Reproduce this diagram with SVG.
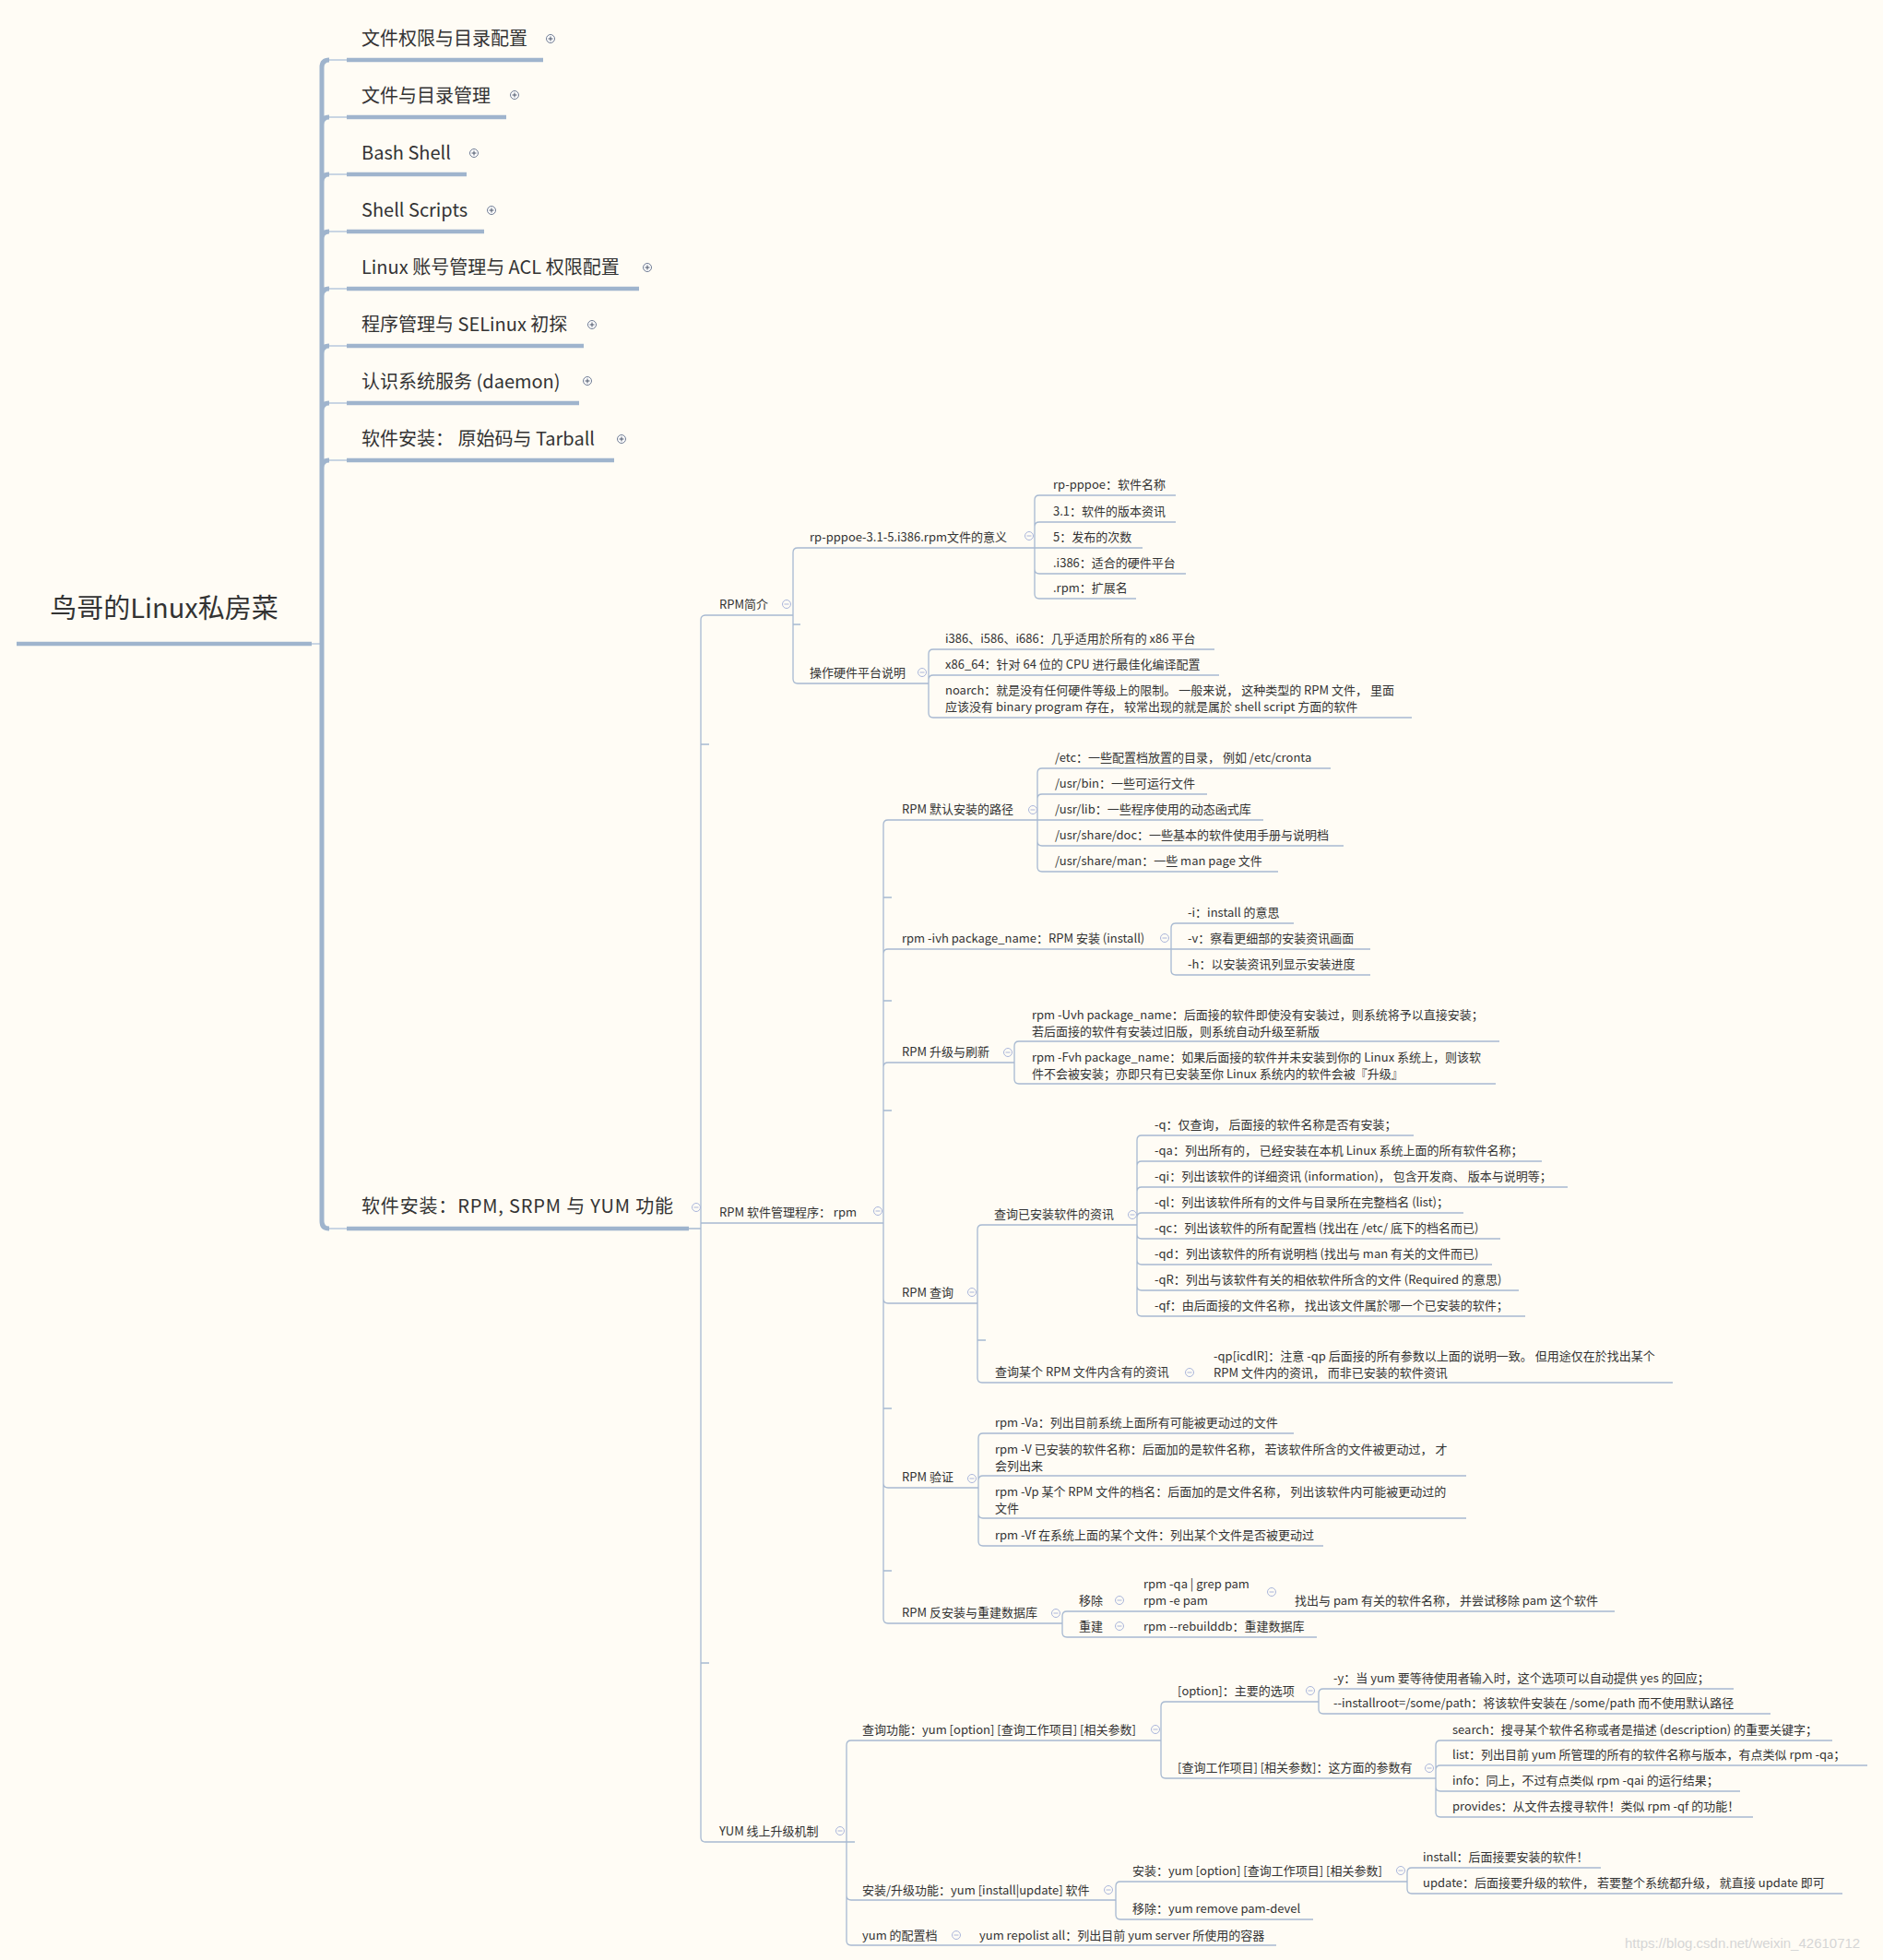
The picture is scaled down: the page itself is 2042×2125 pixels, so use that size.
<svg xmlns="http://www.w3.org/2000/svg" width="2042" height="2125" viewBox="0 0 2042 2125">
<style>
text{font-family:"Noto Sans CJK SC","Noto Sans",sans-serif;fill:#333}
.r{font-size:29px}
.a{font-size:20px}
.s{font-size:13px}
.tk{fill:none;stroke:#9fb4cd;stroke-width:5}
.lt{fill:none;stroke:#c9d5e3;stroke-width:2}
.u1{fill:none;stroke:#9fb4cd;stroke-width:4.5}
.cn{fill:none;stroke:#a7b9d1;stroke-width:1.3}
.u{fill:none;stroke:#a7b9d1;stroke-width:1.3}
.wm{font-family:"Liberation Sans",sans-serif;font-size:15px;fill:#d6d6d6}
</style>
<defs>
<g id="plus"><circle r="4.5" fill="#fff" stroke="#6f7b93"/><path d="M-2.5 0H2.5M0 -2.5V2.5" stroke="#4d566b"/></g>
<g id="minus"><circle r="4.5" fill="#fffcf5" stroke="#aab6db"/><path d="M-2.5 0H2.5" stroke="#aab6db"/></g>
</defs>
<rect width="2042" height="2125" fill="#fffcf5"/>

<g id="connectors">
<path class="lt" d="M338 698H349"/>
<path class="tk" d="M349 698V73Q349 65 357 65M349 698V135Q349 127 357 127M349 698V197Q349 189 357 189M349 698V259Q349 251 357 251M349 698V321Q349 313 357 313M349 698V383Q349 375 357 375M349 698V445Q349 437 357 437M349 698V507Q349 499 357 499M349 698V1324Q349 1332 357 1332"/>
<path class="lt" d="M357 65H376M357 127H376M357 189H376M357 251H376M357 313H376M357 375H376M357 437H376M357 499H376M357 1332H376"/>
<path class="cn" d="M747 1332H760M760 1332V672Q760 667 765 667M760 807H769M760 1332V1326H765M760 1803H769M760 1332V1992Q760 1997 765 1997"/>
<path class="cn" d="M860 667V599Q860 594 865 594M860 677H868M860 667V736Q860 741 865 741"/>
<path class="cn" d="M1122 594V542Q1122 537 1127 537M1122 594V571Q1122 566 1127 566M1122 594H1127M1122 594V617Q1122 622 1127 622M1122 594V644Q1122 649 1127 649"/>
<path class="cn" d="M1007 741V709Q1007 704 1012 704M1007 741V737Q1007 732 1012 732M1007 741V773Q1007 778 1012 778"/>
<path class="cn" d="M958 1326V894Q958 889 963 889M958 973H967M958 1326V1034Q958 1029 963 1029M958 1085H967M958 1326V1157Q958 1152 963 1152M958 1204H967M958 1326V1408Q958 1413 963 1413M958 1527H967M958 1326V1608Q958 1613 963 1613M958 1703H967M958 1326V1755Q958 1760 963 1760"/>
<path class="cn" d="M1125 889V838Q1125 833 1130 833M1125 889V866Q1125 861 1130 861M1125 889H1130M1125 889V912Q1125 917 1130 917M1125 889V940Q1125 945 1130 945"/>
<path class="cn" d="M1270 1029V1006Q1270 1001 1275 1001M1270 1029H1275M1270 1029V1052Q1270 1057 1275 1057"/>
<path class="cn" d="M1100 1152V1134Q1100 1129 1105 1129M1100 1152V1170Q1100 1175 1105 1175"/>
<path class="cn" d="M1060 1413V1333Q1060 1328 1065 1328M1060 1453H1069M1060 1413V1494Q1060 1499 1065 1499"/>
<path class="cn" d="M1233 1328V1236Q1233 1231 1238 1231M1233 1328V1264Q1233 1259 1238 1259M1233 1328V1292Q1233 1287 1238 1287M1233 1328V1320Q1233 1315 1238 1315M1233 1328V1338Q1233 1343 1238 1343M1233 1328V1366Q1233 1371 1238 1371M1233 1328V1394Q1233 1399 1238 1399M1233 1328V1422Q1233 1427 1238 1427"/>
<path class="cn" d="M1061 1613V1559Q1061 1554 1066 1554M1061 1613V1605Q1061 1600 1066 1600M1061 1613V1641Q1061 1646 1066 1646M1061 1613V1671Q1061 1676 1066 1676"/>
<path class="cn" d="M1152 1760V1752Q1152 1747 1157 1747M1152 1760V1770Q1152 1775 1157 1775"/>
<path class="cn" d="M918 1997V1892Q918 1887 923 1887M918 1997H927M918 1997V2055Q918 2060 923 2060M918 1997V2104Q918 2109 923 2109"/>
<path class="cn" d="M1259 1887V1850Q1259 1845 1264 1845M1259 1887V1923Q1259 1928 1264 1928"/>
<path class="cn" d="M1430 1845V1836Q1430 1831 1435 1831M1430 1845V1853Q1430 1858 1435 1858"/>
<path class="cn" d="M1557 1928V1892Q1557 1887 1562 1887M1557 1928V1919Q1557 1914 1562 1914M1557 1928V1937Q1557 1942 1562 1942M1557 1928V1965Q1557 1970 1562 1970"/>
<path class="cn" d="M1210 2060V2045Q1210 2040 1215 2040M1210 2060V2076Q1210 2081 1215 2081"/>
<path class="cn" d="M1526 2040V2030Q1526 2025 1531 2025M1526 2040V2048Q1526 2053 1531 2053"/>
</g>

<g id="root"><text class="r" x="178" y="670" text-anchor="middle">鸟哥的Linux私房菜</text><path class="u1" d="M18 698H338"/></g>

<g id="n1"><text class="a" x="392" y="49">文件权限与目录配置</text><path class="u1" d="M376 65H589"/><use href="#plus" x="597" y="42"/></g>
<g id="n2"><text class="a" x="392" y="111">文件与目录管理</text><path class="u1" d="M376 127H549"/><use href="#plus" x="558" y="103"/></g>
<g id="n3"><text class="a" x="392" y="173">Bash Shell</text><path class="u1" d="M376 189H506"/><use href="#plus" x="514" y="166"/></g>
<g id="n4"><text class="a" x="392" y="235">Shell Scripts</text><path class="u1" d="M376 251H525"/><use href="#plus" x="533" y="228"/></g>
<g id="n5"><text class="a" x="392" y="297">Linux 账号管理与 ACL 权限配置</text><path class="u1" d="M376 313H693"/><use href="#plus" x="702" y="290"/></g>
<g id="n6"><text class="a" x="392" y="359">程序管理与 SELinux 初探</text><path class="u1" d="M376 375H633"/><use href="#plus" x="642" y="352"/></g>
<g id="n7"><text class="a" x="392" y="421">认识系统服务 (daemon)</text><path class="u1" d="M376 437H628"/><use href="#plus" x="637" y="413"/></g>
<g id="n8"><text class="a" x="392" y="483">软件安装： 原始码与 Tarball</text><path class="u1" d="M376 499H666"/><use href="#plus" x="674" y="476"/></g>
<g id="n9"><text class="a" x="392" y="1315" textLength="338" lengthAdjust="spacing">软件安装：RPM, SRPM 与 YUM 功能</text><path class="u1" d="M376 1332H747"/><use href="#minus" x="755" y="1309"/></g>

<g id="rpmintro"><text class="s" x="780" y="660">RPM简介</text><path class="u" d="M765 667H860"/><use href="#minus" x="853" y="655"/></g>
<g id="rpmname"><text class="s" x="878" y="587">rp-pppoe-3.1-5.i386.rpm文件的意义</text><path class="u" d="M865 594H1122"/><use href="#minus" x="1116" y="581"/></g>
<g id="rn1"><text class="s" x="1142" y="530">rp-pppoe：软件名称</text><path class="u" d="M1127 537H1275"/></g>
<g id="rn2"><text class="s" x="1142" y="559">3.1：软件的版本资讯</text><path class="u" d="M1127 566H1275"/></g>
<g id="rn3"><text class="s" x="1142" y="587">5：发布的次数</text><path class="u" d="M1127 594H1239"/></g>
<g id="rn4"><text class="s" x="1142" y="615">.i386：适合的硬件平台</text><path class="u" d="M1127 622H1286"/></g>
<g id="rn5"><text class="s" x="1142" y="642">.rpm：扩展名</text><path class="u" d="M1127 649H1232"/></g>
<g id="hw"><text class="s" x="878" y="734">操作硬件平台说明</text><path class="u" d="M865 741H1007"/><use href="#minus" x="1000" y="729"/></g>
<g id="hw1"><text class="s" x="1025" y="697">i386、i586、i686：几乎适用於所有的 x86 平台</text><path class="u" d="M1012 704H1317"/></g>
<g id="hw2"><text class="s" x="1025" y="725">x86_64：针对 64 位的 CPU 进行最佳化编译配置</text><path class="u" d="M1012 732H1322"/></g>
<g id="hw3"><text class="s" x="1025" y="753">noarch：就是没有任何硬件等级上的限制。 一般来说， 这种类型的 RPM 文件， 里面</text><text class="s" x="1025" y="771">应该没有 binary program 存在， 较常出现的就是属於 shell script 方面的软件</text><path class="u" d="M1012 778H1531"/></g>

<g id="rpmmgr"><text class="s" x="780" y="1319">RPM 软件管理程序： rpm</text><path class="u" d="M765 1326H958"/><use href="#minus" x="952" y="1313"/></g>
<g id="path"><text class="s" x="978" y="882">RPM 默认安装的路径</text><path class="u" d="M963 889H1125"/><use href="#minus" x="1120" y="878"/></g>
<g id="p1"><text class="s" x="1144" y="826">/etc：一些配置档放置的目录， 例如 /etc/cronta</text><path class="u" d="M1130 833H1443"/></g>
<g id="p2"><text class="s" x="1144" y="854">/usr/bin：一些可运行文件</text><path class="u" d="M1130 861H1309"/></g>
<g id="p3"><text class="s" x="1144" y="882">/usr/lib：一些程序使用的动态函式库</text><path class="u" d="M1130 889H1370"/></g>
<g id="p4"><text class="s" x="1144" y="910">/usr/share/doc：一些基本的软件使用手册与说明档</text><path class="u" d="M1130 917H1457"/></g>
<g id="p5"><text class="s" x="1144" y="938">/usr/share/man：一些 man page 文件</text><path class="u" d="M1130 945H1386"/></g>
<g id="ivh"><text class="s" x="978" y="1022">rpm -ivh package_name：RPM 安装 (install)</text><path class="u" d="M963 1029H1270"/><use href="#minus" x="1263" y="1017"/></g>
<g id="i1"><text class="s" x="1288" y="994">-i：install 的意思</text><path class="u" d="M1275 1001H1403"/></g>
<g id="i2"><text class="s" x="1288" y="1022">-v：察看更细部的安装资讯画面</text><path class="u" d="M1275 1029H1486"/></g>
<g id="i3"><text class="s" x="1288" y="1050">-h：以安装资讯列显示安装进度</text><path class="u" d="M1275 1057H1486"/></g>
<g id="upg"><text class="s" x="978" y="1145">RPM 升级与刷新</text><path class="u" d="M963 1152H1100"/><use href="#minus" x="1093" y="1141"/></g>
<g id="u1"><text class="s" x="1119" y="1105">rpm -Uvh package_name：后面接的软件即使没有安装过，则系统将予以直接安装；</text><text class="s" x="1119" y="1123">若后面接的软件有安装过旧版，则系统自动升级至新版</text><path class="u" d="M1105 1129H1626"/></g>
<g id="u2"><text class="s" x="1119" y="1151">rpm -Fvh package_name：如果后面接的软件并未安装到你的 Linux 系统上，则该软</text><text class="s" x="1119" y="1169">件不会被安装；亦即只有已安装至你 Linux 系统内的软件会被『升级』</text><path class="u" d="M1105 1175H1622"/></g>
<g id="query"><text class="s" x="978" y="1406">RPM 查询</text><path class="u" d="M963 1413H1060"/><use href="#minus" x="1054" y="1401"/></g>
<g id="qinst"><text class="s" x="1078" y="1321">查询已安装软件的资讯</text><path class="u" d="M1065 1328H1233"/><use href="#minus" x="1228" y="1317"/></g>
<g id="q1"><text class="s" x="1252" y="1224">-q：仅查询， 后面接的软件名称是否有安装；</text><path class="u" d="M1238 1231H1533"/></g>
<g id="q2"><text class="s" x="1252" y="1252">-qa：列出所有的， 已经安装在本机 Linux 系统上面的所有软件名称；</text><path class="u" d="M1238 1259H1672"/></g>
<g id="q3"><text class="s" x="1252" y="1280">-qi：列出该软件的详细资讯 (information)， 包含开发商、 版本与说明等；</text><path class="u" d="M1238 1287H1700"/></g>
<g id="q4"><text class="s" x="1252" y="1308">-ql：列出该软件所有的文件与目录所在完整档名 (list)；</text><path class="u" d="M1238 1315H1587"/></g>
<g id="q5"><text class="s" x="1252" y="1336">-qc：列出该软件的所有配置档 (找出在 /etc/ 底下的档名而已)</text><path class="u" d="M1238 1343H1627"/></g>
<g id="q6"><text class="s" x="1252" y="1364">-qd：列出该软件的所有说明档 (找出与 man 有关的文件而已)</text><path class="u" d="M1238 1371H1618"/></g>
<g id="q7"><text class="s" x="1252" y="1392">-qR：列出与该软件有关的相依软件所含的文件 (Required 的意思)</text><path class="u" d="M1238 1399H1647"/></g>
<g id="q8"><text class="s" x="1252" y="1420">-qf：由后面接的文件名称， 找出该文件属於哪一个已安装的软件；</text><path class="u" d="M1238 1427H1654"/></g>
<g id="qfile"><text class="s" x="1079" y="1492">查询某个 RPM 文件内含有的资讯</text><path class="u" d="M1065 1499H1314"/><use href="#minus" x="1290" y="1488"/></g>
<g id="qp"><text class="s" x="1316" y="1475">-qp[icdlR]：注意 -qp 后面接的所有参数以上面的说明一致。 但用途仅在於找出某个</text><text class="s" x="1316" y="1493">RPM 文件内的资讯， 而非已安装的软件资讯</text><path class="u" d="M1314 1499H1814"/></g>
<g id="verify"><text class="s" x="978" y="1606">RPM 验证</text><path class="u" d="M963 1613H1061"/><use href="#minus" x="1054" y="1603"/></g>
<g id="v1"><text class="s" x="1079" y="1547">rpm -Va：列出目前系统上面所有可能被更动过的文件</text><path class="u" d="M1066 1554H1403"/></g>
<g id="v2"><text class="s" x="1079" y="1576">rpm -V 已安装的软件名称：后面加的是软件名称， 若该软件所含的文件被更动过， 才</text><text class="s" x="1079" y="1594">会列出来</text><path class="u" d="M1066 1600H1590"/></g>
<g id="v3"><text class="s" x="1079" y="1622">rpm -Vp 某个 RPM 文件的档名：后面加的是文件名称， 列出该软件内可能被更动过的</text><text class="s" x="1079" y="1640">文件</text><path class="u" d="M1066 1646H1590"/></g>
<g id="v4"><text class="s" x="1079" y="1669">rpm -Vf 在系统上面的某个文件：列出某个文件是否被更动过</text><path class="u" d="M1066 1676H1435"/></g>
<g id="erase"><text class="s" x="978" y="1753">RPM 反安装与重建数据库</text><path class="u" d="M963 1760H1152"/><use href="#minus" x="1145" y="1749"/></g>
<g id="rm"><text class="s" x="1170" y="1740">移除</text><path class="u" d="M1157 1747H1240"/><use href="#minus" x="1214" y="1735"/></g>
<g id="rm1"><text class="s" x="1240" y="1722">rpm -qa | grep pam</text><text class="s" x="1240" y="1740">rpm -e pam</text><path class="u" d="M1240 1747H1404"/><use href="#minus" x="1379" y="1726"/></g>
<g id="rm2"><text class="s" x="1404" y="1740">找出与 pam 有关的软件名称， 并尝试移除 pam 这个软件</text><path class="u" d="M1404 1747H1751"/></g>
<g id="rb"><text class="s" x="1170" y="1768">重建</text><path class="u" d="M1157 1775H1240"/><use href="#minus" x="1214" y="1763"/></g>
<g id="rb1"><text class="s" x="1240" y="1768">rpm --rebuilddb：重建数据库</text><path class="u" d="M1240 1775H1428"/></g>

<g id="yum"><text class="s" x="780" y="1990">YUM 线上升级机制</text><path class="u" d="M765 1997H918"/><use href="#minus" x="911" y="1985"/></g>
<g id="yq"><text class="s" x="935" y="1880">查询功能：yum [option] [查询工作项目] [相关参数]</text><path class="u" d="M923 1887H1259"/><use href="#minus" x="1253" y="1875"/></g>
<g id="yo"><text class="s" x="1277" y="1838">[option]：主要的选项</text><path class="u" d="M1264 1845H1430"/><use href="#minus" x="1421" y="1833"/></g>
<g id="yo1"><text class="s" x="1446" y="1824">-y：当 yum 要等待使用者输入时，这个选项可以自动提供 yes 的回应；</text><path class="u" d="M1435 1831H1880"/></g>
<g id="yo2"><text class="s" x="1446" y="1851">--installroot=/some/path：将该软件安装在 /some/path 而不使用默认路径</text><path class="u" d="M1435 1858H1920"/></g>
<g id="yw"><text class="s" x="1277" y="1921">[查询工作项目] [相关参数]：这方面的参数有</text><path class="u" d="M1264 1928H1557"/><use href="#minus" x="1550" y="1917"/></g>
<g id="yw1"><text class="s" x="1575" y="1880">search：搜寻某个软件名称或者是描述 (description) 的重要关键字；</text><path class="u" d="M1562 1887H1987"/></g>
<g id="yw2"><text class="s" x="1575" y="1907">list：列出目前 yum 所管理的所有的软件名称与版本，有点类似 rpm -qa；</text><path class="u" d="M1562 1914H2025"/></g>
<g id="yw3"><text class="s" x="1575" y="1935">info：同上，不过有点类似 rpm -qai 的运行结果；</text><path class="u" d="M1562 1942H1887"/></g>
<g id="yw4"><text class="s" x="1575" y="1963">provides：从文件去搜寻软件！类似 rpm -qf 的功能！</text><path class="u" d="M1562 1970H1901"/></g>
<g id="yi"><text class="s" x="935" y="2054">安装/升级功能：yum [install|update] 软件</text><path class="u" d="M923 2060H1210"/><use href="#minus" x="1202" y="2049"/></g>
<g id="yi1"><text class="s" x="1228" y="2033">安装：yum [option] [查询工作项目] [相关参数]</text><path class="u" d="M1215 2040H1526"/><use href="#minus" x="1519" y="2028"/></g>
<g id="yi1a"><text class="s" x="1543" y="2018">install：后面接要安装的软件！</text><path class="u" d="M1531 2025H1736"/></g>
<g id="yi1b"><text class="s" x="1543" y="2046">update：后面接要升级的软件， 若要整个系统都升级， 就直接 update 即可</text><path class="u" d="M1531 2053H1998"/></g>
<g id="yi2"><text class="s" x="1228" y="2074">移除：yum remove pam-devel</text><path class="u" d="M1215 2081H1424"/></g>
<g id="yc"><text class="s" x="935" y="2103">yum 的配置档</text><path class="u" d="M923 2109H1062"/><use href="#minus" x="1037" y="2098"/></g>
<g id="yc1"><text class="s" x="1062" y="2103">yum repolist all：列出目前 yum server 所使用的容器</text><path class="u" d="M1062 2109H1384"/></g>

<text class="wm" x="1762" y="2112">https://blog.csdn.net/weixin_42610712</text>
</svg>
